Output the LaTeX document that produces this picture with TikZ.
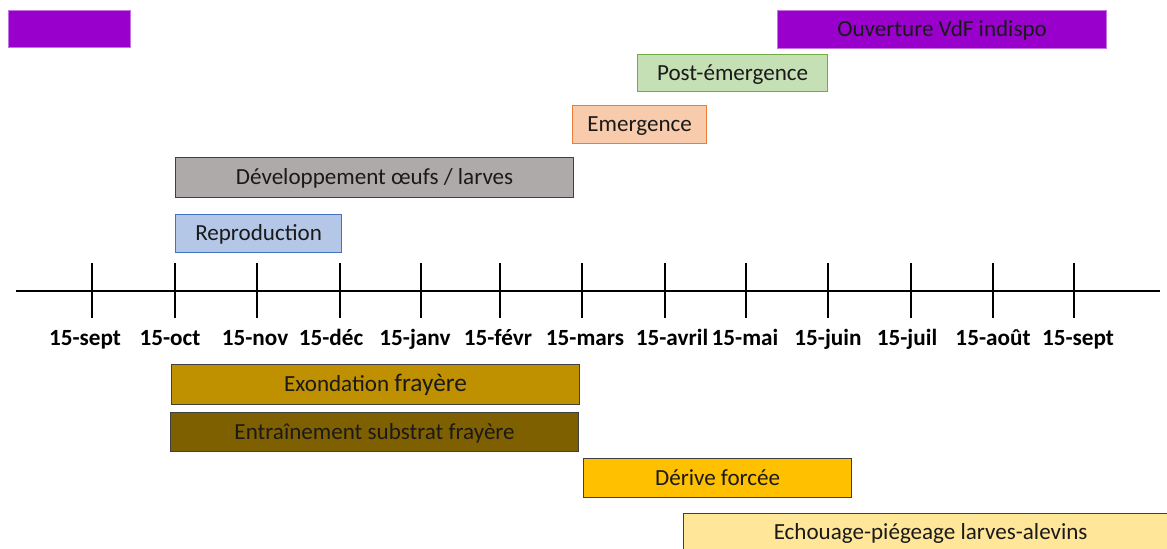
\documentclass[tikz,border=0pt]{standalone}
\usepackage{fontspec}
\setmainfont{Carlito}
\usepackage{tikz}

\definecolor{vdfpurple}{HTML}{9900CC}
\definecolor{postgreen}{HTML}{C5E0B4}
\definecolor{postgreenline}{HTML}{70AD47}
\definecolor{emerorange}{HTML}{F8CBAD}
\definecolor{emerorangeline}{HTML}{ED7D31}
\definecolor{devgrey}{HTML}{AEAAAA}
\definecolor{reproblue}{HTML}{B4C7E7}
\definecolor{reproblueline}{HTML}{4472C4}
\definecolor{exongold}{HTML}{BF9000}
\definecolor{substbrown}{HTML}{7F6000}
\definecolor{deriveyellow}{HTML}{FFC000}
\definecolor{echoucream}{HTML}{FFE699}
\definecolor{textdark}{HTML}{1A1A1A}

\newcommand{\px}{0.75pt}

\tikzset{
	phase/.style 2 args={anchor=north west, inner sep=0pt, minimum width=#1*\px,
		minimum height=#2*\px, draw=black!75, line width=0.9pt, text=textdark,
		text height=14pt, text depth=3pt,
		font=\fontsize{17.3}{20}\selectfont},
	datelab/.style={inner sep=0pt, anchor=base, font=\bfseries\fontsize{17.4}{20}\selectfont}
}

\begin{document}
\begin{tikzpicture}[x=0.75pt, y=-0.75pt]
	\useasboundingbox (0,0) rectangle (1167,549);
	\clip (0,0) rectangle (1167,549);
	% Periods above the axis:
	\node[phase={122}{37}, fill=vdfpurple, draw=vdfpurple!55] (vdfa) at (8,10) {};
	\node[phase={329}{38}, fill=vdfpurple, draw=vdfpurple!55] (vdfb) at (777,10) {Ouverture VdF indispo};
	\node[phase={190}{37}, fill=postgreen, draw=postgreenline] (post) at (637,54) {Post-émergence};
	\node[phase={134}{38}, fill=emerorange, draw=emerorangeline] (emer) at (572,105) {Emergence};
	\node[phase={398}{40}, fill=devgrey] (dev) at (175,157) {Développement œufs / larves};
	\node[phase={166}{38}, fill=reproblue, draw=reproblueline] (repro) at (175,214) {Reproduction};
	% Axis and dates:
	\draw[line width=2pt] (16,291) -- (1160,291);
	\foreach \x/\lx/\lab [count=\i] in {92/85/15-sept, 175/170/15-oct, 257/255/15-nov,
		340/331/15-déc, 421/415/15-janv, 500/498/15-févr, 582/585/15-mars,
		665/672/15-avril, 746/745/15-mai, 828/828/15-juin, 911/907/15-juil,
		993/993/15-août, 1074/1078/15-sept}{
		\draw[line width=1.6pt] (\x,263) -- (\x,318);
		\node[datelab] (date\i) at (\lx,345) {\lab};
	}
	% Risks below the axis:
	\node[phase={408}{40}, fill=exongold] (exon) at (171,364) {Exondation {\fontsize{19}{20}\selectfont frayère}};
	\node[phase={408}{39}, fill=substbrown] (subst) at (170,412) {Entraînement substrat frayère};
	\node[phase={268}{39}, fill=deriveyellow] (derive) at (583,458) {Dérive forcée};
	\node[phase={494}{38}, fill=echoucream] (echou) at (683,513) {Echouage-piégeage larves-alevins};
\end{tikzpicture}
\end{document}
